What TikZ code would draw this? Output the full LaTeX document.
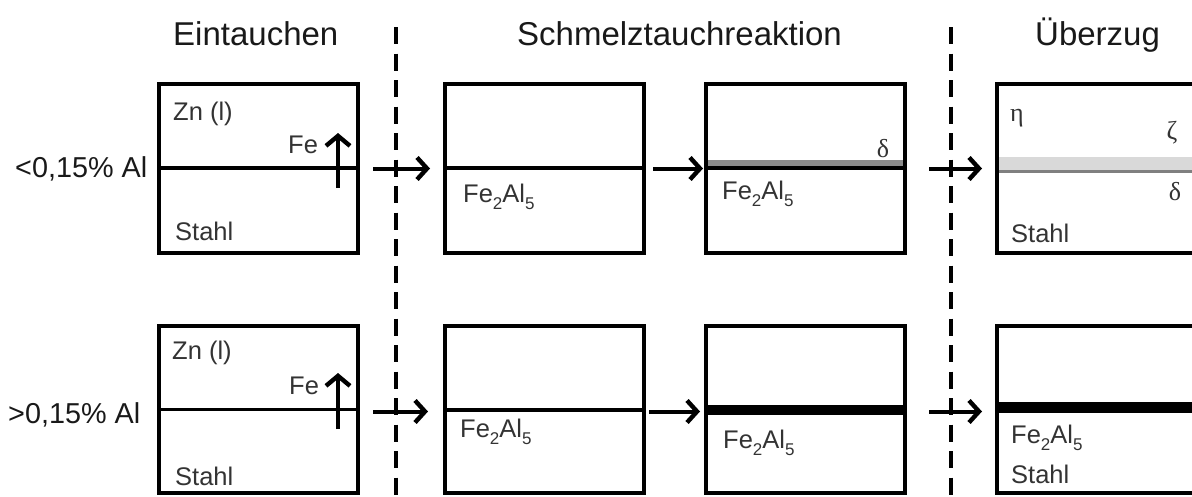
\documentclass[tikz,border=0pt]{standalone}
\usepackage{fontspec}
\setmainfont{Liberation Sans}
\newfontfamily\grk{Liberation Serif}
\usetikzlibrary{arrows.meta}
\newcommand{\lowsub}[1]{\raisebox{-0.28em}{\fontsize{17}{18}\selectfont #1}}
\begin{document}
\begin{tikzpicture}[x=1pt,y=-1pt,
  box/.style={draw, line width=3.6pt, anchor=north west, minimum width=199pt, inner sep=0pt, outer sep=0pt},
  boxa/.style={box, minimum height=169pt},
  boxb/.style={box, minimum height=167pt},
  mid/.style={line width=3.4pt},
  arr/.style={line width=4pt, -{Straight Barb[length=10pt,width=22pt,line width=4.4pt]}},
  fearr/.style={line width=4pt, -{Straight Barb[length=10pt,width=24pt,line width=4.4pt]}},
  sep/.style={line width=3.2pt, dash pattern=on 17pt off 9.5pt},
  title/.style={anchor=base west, inner sep=0pt, font=\fontsize{33}{36}\selectfont, text=black!90},
  rowlab/.style={anchor=base west, inner sep=0pt, font=\fontsize{28.8}{32}\selectfont, text=black!90},
  lab/.style={anchor=base west, inner sep=0pt, font=\fontsize{25.5}{28}\selectfont, text=black!80},
  greek/.style={anchor=base, inner sep=0pt, font=\grk\fontsize{26}{28}\selectfont, text=black!80}
]
\useasboundingbox (0,0) rectangle (1192,496);
% separators
\coordinate (s1t) at (396,27); \coordinate (s1b) at (396,500);
\coordinate (s2t) at (951,27); \coordinate (s2b) at (951,500);
\draw[sep] (s1t) -- (s1b);
\draw[sep] (s2t) -- (s2b);
% titles
\node[title] (t1) at (173,45) {Eintauchen};
\node[title] (t2) at (517,45) {Schmelztauchreaktion};
\node[title] (t3) at (1035,45) {Überzug};
% row labels
\node[rowlab] (r1) at (15,177) {<0,15\% Al};
\node[rowlab] (r2) at (8,423) {>0,15\% Al};
% boxes row 1
\node[boxa] (b11) at (159,84) {};
\node[boxa] (b12) at (445,84) {};
\node[boxa] (b13) at (706,84) {};
\node[boxa] (b14) at (997,84) {};
% boxes row 2
\node[boxb] (b21) at (159,326) {};
\node[boxb] (b22) at (445,326) {};
\node[boxb] (b23) at (706,326) {};
\node[boxb] (b24) at (997,326) {};
% layers row 1
\draw[mid] ([yshift=0.5pt]b11.west) -- ([yshift=0.5pt]b11.east);
\draw[line width=4pt] ([yshift=0.5pt]b12.west) -- ([yshift=0.5pt]b12.east);
\fill[black!45] ([xshift=1.8pt,yshift=9pt]b13.west) rectangle ([xshift=-1.8pt,yshift=2pt]b13.east);
\draw[mid] ([yshift=0.5pt]b13.west) -- ([yshift=0.5pt]b13.east);
\fill[black!15] ([xshift=1.8pt,yshift=11.5pt]b14.west) rectangle ([xshift=-1.8pt,yshift=-1.5pt]b14.east);
\draw[line width=3.4pt, black!50] ([xshift=1.8pt,yshift=-3pt]b14.west) -- ([xshift=-1.8pt,yshift=-3pt]b14.east);
% layers row 2
\draw[mid] (b21.west) -- (b21.east);
\draw[line width=4pt] (b22.west) -- (b22.east);
\draw[line width=10pt] ([yshift=-0.5pt]b23.west) -- ([yshift=-0.5pt]b23.east);
\draw[line width=11pt] ([yshift=2pt]b24.west) -- ([yshift=2pt]b24.east);
% arrows row 1
\draw[arr] ([xshift=15pt]b11.east) -- ([xshift=-15pt]b12.west);
\draw[arr] ([xshift=9pt]b12.east) -- ([xshift=-3pt]b13.west);
\draw[arr] ([xshift=24pt]b13.east) -- ([xshift=-15pt]b14.west);
% arrows row 2
\draw[arr] ([xshift=15pt,yshift=-2pt]b21.east) -- ([xshift=-17pt,yshift=-2pt]b22.west);
\draw[arr] ([xshift=5pt,yshift=-2pt]b22.east) -- ([xshift=-6pt,yshift=-2pt]b23.west);
\draw[arr] ([xshift=24pt,yshift=-2pt]b23.east) -- ([xshift=-15pt,yshift=-2pt]b24.west);
% Fe arrows
\coordinate (fa1s) at (338,188); \coordinate (fa1e) at (338,133);
\coordinate (fa2s) at (338,429); \coordinate (fa2e) at (338,373);
\draw[fearr] (fa1s) -- (fa1e);
\draw[fearr] (fa2s) -- (fa2e);
% labels row 1
\node[lab] (zn1) at (173,120) {Zn (l)};
\node[lab] (fe1) at (288,153) {Fe};
\node[lab] (st1) at (175,240) {Stahl};
\node[lab] (fa12) at (463,202) {Fe\lowsub{2}Al\lowsub{5}};
\node[lab] (fa13) at (722,199) {Fe\lowsub{2}Al\lowsub{5}};
\node[greek] (d13) at (883,157) {δ};
\node[greek, anchor=base west] (eta) at (1010,121) {η};
\node[greek] (zeta) at (1172,139) {ζ};
\node[greek] (d14) at (1175,200) {δ};
\node[lab] (st14) at (1011,242) {Stahl};
% labels row 2
\node[lab] (zn2) at (172,359) {Zn (l)};
\node[lab] (fe2) at (289,394) {Fe};
\node[lab] (st2) at (175,485) {Stahl};
\node[lab] (fa22) at (460,437) {Fe\lowsub{2}Al\lowsub{5}};
\node[lab] (fa23) at (723,448) {Fe\lowsub{2}Al\lowsub{5}};
\node[lab] (fa24) at (1011,443) {Fe\lowsub{2}Al\lowsub{5}};
\node[lab] (st24) at (1011,483) {Stahl};
\end{tikzpicture}
\end{document}
